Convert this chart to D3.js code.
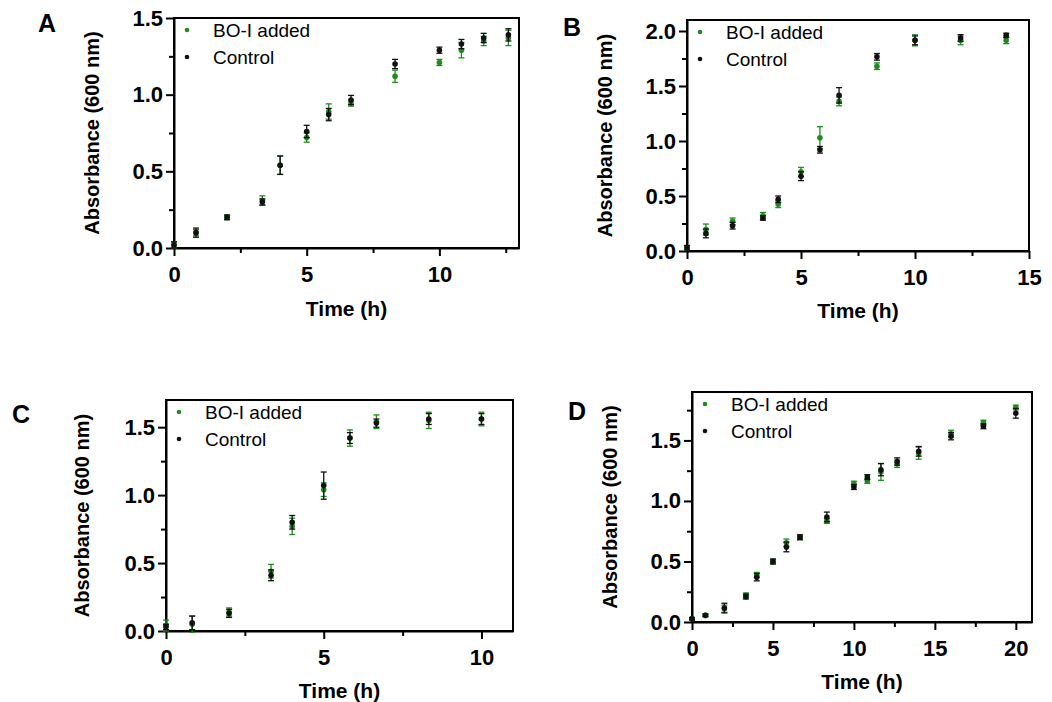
<!DOCTYPE html>
<html>
<head>
<meta charset="utf-8">
<script src="https://cdn.jsdelivr.net/npm/d3@7"></script>
<style>
  body { margin: 0; background: #fff; }
  svg { font-family: Arial, "Liberation Sans", sans-serif; }
  .tick text { font-weight: bold; font-size: 22px; fill: #000; }
</style>
</head>
<body>
<svg id="fig" width="1052" height="702"></svg>
<script>
// ---- panel A ----
var timeA = [0, 0.83, 2, 3.33, 4, 5, 5.83, 6.67, 8.33, 10, 10.83, 11.67, 12.6];
var ctrlA = [0.02, 0.10, 0.20, 0.30, 0.54, 0.76, 0.87, 0.965, 1.20, 1.29, 1.33, 1.37, 1.39];
var ctrlErrA = [0.02, 0.03, 0.015, 0.02, 0.06, 0.04, 0.04, 0.03, 0.03, 0.02, 0.03, 0.03, 0.04];
var boA = [0.02, 0.10, 0.20, 0.31, 0.54, 0.72, 0.89, 0.945, 1.12, 1.21, 1.29, 1.35, 1.37];
var boErrA = [0.02, 0.02, 0.015, 0.03, 0.06, 0.03, 0.05, 0.02, 0.04, 0.02, 0.05, 0.03, 0.05];

// ---- panel B ----
var timeB = [0, 0.83, 2, 3.33, 4, 5, 5.83, 6.67, 8.33, 10, 12, 14];
var ctrlB = [0.03, 0.16, 0.23, 0.30, 0.47, 0.68, 0.92, 1.415, 1.765, 1.915, 1.937, 1.96];
var ctrlErrB = [0.02, 0.04, 0.03, 0.02, 0.03, 0.04, 0.03, 0.07, 0.03, 0.04, 0.03, 0.02];
var boB = [0.03, 0.195, 0.27, 0.32, 0.425, 0.72, 1.03, 1.36, 1.68, 1.915, 1.915, 1.915];
var boErrB = [0.02, 0.05, 0.03, 0.03, 0.03, 0.04, 0.1, 0.04, 0.03, 0.05, 0.04, 0.03];

// ---- panel C ----
var timeC = [0, 0.83, 2, 3.33, 4, 5, 5.83, 6.67, 8.33, 10];
var ctrlC = [0.03, 0.06, 0.13, 0.41, 0.80, 1.07, 1.42, 1.53, 1.56, 1.56];
var ctrlErrC = [0.02, 0.05, 0.03, 0.04, 0.05, 0.1, 0.04, 0.03, 0.04, 0.04];
var boC = [0.04, 0.05, 0.14, 0.44, 0.77, 1.04, 1.42, 1.54, 1.55, 1.56];
var boErrC = [0.04, 0.06, 0.03, 0.05, 0.06, 0.05, 0.06, 0.05, 0.06, 0.05];

// ---- panel D ----
var timeD = [0, 0.83, 2, 3.33, 4, 5, 5.83, 6.67, 8.33, 10, 10.83, 11.67, 12.67, 14, 16, 18, 20];
var ctrlD = [0.027, 0.055, 0.115, 0.21, 0.37, 0.50, 0.62, 0.70, 0.868, 1.115, 1.197, 1.258, 1.326, 1.41, 1.535, 1.617, 1.724];
var ctrlErrD = [0.01, 0.01, 0.04, 0.02, 0.03, 0.02, 0.04, 0.02, 0.04, 0.02, 0.02, 0.05, 0.03, 0.04, 0.03, 0.02, 0.04];
var boD = [0.027, 0.055, 0.11, 0.22, 0.39, 0.50, 0.655, 0.70, 0.835, 1.143, 1.165, 1.24, 1.307, 1.395, 1.554, 1.647, 1.772];
var boErrD = [0.01, 0.01, 0.03, 0.02, 0.02, 0.02, 0.03, 0.02, 0.02, 0.02, 0.02, 0.07, 0.03, 0.05, 0.03, 0.02, 0.02];

// ticks
var xMajorA = [0, 5, 10], xMinorA = [2.5, 7.5, 12.5];
var xMajorB = [0, 5, 10, 15], xMinorB = [2.5, 7.5, 12.5];
var xMajorC = [0, 5, 10], xMinorC = [2.5, 7.5];
var xMajorD = [0, 5, 10, 15, 20], xMinorD = [2.5, 7.5, 12.5, 17.5];
var yMajor15 = [0, 0.5, 1.0, 1.5], yMajor20 = [0, 0.5, 1.0, 1.5, 2.0];
var yMinor15 = [0.25, 0.75, 1.25], yMinor20 = [0.25, 0.75, 1.25, 1.75];

var seriesNames = ["BO-I added", "Control"];
var green = "#1e8c1e", black = "#111";

var svg = d3.select("#fig");

function drawPanel(p) {
    var x = d3.scaleLinear().domain([0, p.xMax]).range([p.left, p.right]);
    var y = d3.scaleLinear().domain([0, p.yMax]).range([p.bottom, p.top]);
    var g = svg.append("g");

    // frame (top + right)
    g.append("rect")
        .attr("x", p.left).attr("y", p.top)
        .attr("width", p.right - p.left).attr("height", p.bottom - p.top)
        .attr("fill", "none").attr("stroke", "#000").attr("stroke-width", 2);

    // minor ticks
    g.append("g").attr("transform", "translate(0," + p.bottom + ")")
        .call(d3.axisBottom(x).tickValues(p.xMinor).tickSize(5).tickFormat(""))
        .call(s => s.select(".domain").remove());
    g.append("g").attr("transform", "translate(" + p.left + ",0)")
        .call(d3.axisLeft(y).tickValues(p.yMinor).tickSize(5).tickFormat(""))
        .call(s => s.select(".domain").remove());

    // major axes
    var xa = g.append("g").attr("transform", "translate(0," + p.bottom + ")")
        .call(d3.axisBottom(x).tickValues(p.xMajor).tickSize(8).tickPadding(10).tickSizeOuter(0).tickFormat(d3.format("d")));
    var ya = g.append("g").attr("transform", "translate(" + p.left + ",0)")
        .call(d3.axisLeft(y).tickValues(p.yMajor).tickSize(8).tickPadding(3).tickSizeOuter(0).tickFormat(d3.format(".1f")));
    g.selectAll(".domain").attr("stroke-width", 2);
    g.selectAll(".tick line").attr("stroke-width", 2);
    g.selectAll("g").attr("font-family", null).attr("font-size", null);

    // data: green first, control on top
    var sets = [
        {t: p.time, v: p.bo, e: p.boErr, c: green},
        {t: p.time, v: p.ctrl, e: p.ctrlErr, c: black}
    ];
    sets.forEach(function(s) {
        var pts = s.t.map((t, i) => ({t: t, v: s.v[i], e: s.e[i]}));
        var sg = g.append("g").attr("stroke", s.c).attr("fill", s.c).attr("stroke-width", 1.3);
        var eb = sg.selectAll(".eb").data(pts).enter().append("g");
        eb.append("line")
            .attr("x1", d => x(d.t)).attr("x2", d => x(d.t))
            .attr("y1", d => y(d.v - d.e)).attr("y2", d => y(d.v + d.e));
        eb.append("line")
            .attr("x1", d => x(d.t) - 3).attr("x2", d => x(d.t) + 3)
            .attr("y1", d => y(d.v + d.e)).attr("y2", d => y(d.v + d.e));
        eb.append("line")
            .attr("x1", d => x(d.t) - 3).attr("x2", d => x(d.t) + 3)
            .attr("y1", d => y(d.v - d.e)).attr("y2", d => y(d.v - d.e));
        sg.selectAll("circle").data(pts).enter().append("circle")
            .attr("cx", d => x(d.t)).attr("cy", d => y(d.v))
            .attr("r", 2.8).attr("stroke", "none");
    });

    // legend
    var lg = g.append("g");
    [green, black].forEach(function(c, i) {
        var yy = p.top + 12 + i * 27;
        lg.append("circle").attr("cx", p.left + 13).attr("cy", yy).attr("r", 2.3).attr("fill", c);
        lg.append("text").attr("x", p.left + 39).attr("y", yy + 7)
            .attr("font-size", 19).text(seriesNames[i]);
    });

    // titles
    svg.append("text").attr("x", p.labelX).attr("y", p.labelY)
        .attr("text-anchor", "middle").attr("font-weight", "bold").attr("font-size", 25)
        .text(p.label);
    svg.append("text")
        .attr("transform", "translate(" + p.ytX + "," + ((p.top + p.bottom) / 2) + ") rotate(-90)")
        .attr("text-anchor", "middle").attr("font-weight", "bold").attr("font-size", 20)
        .text("Absorbance (600 nm)");
    svg.append("text").attr("x", (p.left + p.right) / 2).attr("y", p.xtY)
        .attr("text-anchor", "middle").attr("font-weight", "bold").attr("font-size", 21)
        .text("Time (h)");
}

drawPanel({label: "A", labelX: 47, labelY: 32, left: 174, right: 519, top: 18, bottom: 248,
    xMax: 13, yMax: 1.5, xMajor: xMajorA, xMinor: xMinorA, yMajor: yMajor15, yMinor: yMinor15,
    time: timeA, ctrl: ctrlA, ctrlErr: ctrlErrA, bo: boA, boErr: boErrA, ytX: 99, xtY: 316});
drawPanel({label: "B", labelX: 572, labelY: 36, left: 687, right: 1029, top: 20, bottom: 251,
    xMax: 15, yMax: 2.1, xMajor: xMajorB, xMinor: xMinorB, yMajor: yMajor20, yMinor: yMinor20,
    time: timeB, ctrl: ctrlB, ctrlErr: ctrlErrB, bo: boB, boErr: boErrB, ytX: 612, xtY: 318});
drawPanel({label: "C", labelX: 21, labelY: 423, left: 166, right: 513, top: 400, bottom: 631,
    xMax: 11, yMax: 1.7, xMajor: xMajorC, xMinor: xMinorC, yMajor: yMajor15, yMinor: yMinor15,
    time: timeC, ctrl: ctrlC, ctrlErr: ctrlErrC, bo: boC, boErr: boErrC, ytX: 89, xtY: 698});
drawPanel({label: "D", labelX: 577, labelY: 420, left: 692, right: 1032, top: 392, bottom: 622,
    xMax: 21, yMax: 1.9, xMajor: xMajorD, xMinor: xMinorD, yMajor: yMajor15, yMinor: yMinor20,
    time: timeD, ctrl: ctrlD, ctrlErr: ctrlErrD, bo: boD, boErr: boErrD, ytX: 617, xtY: 689});
</script>
</body>
</html>
